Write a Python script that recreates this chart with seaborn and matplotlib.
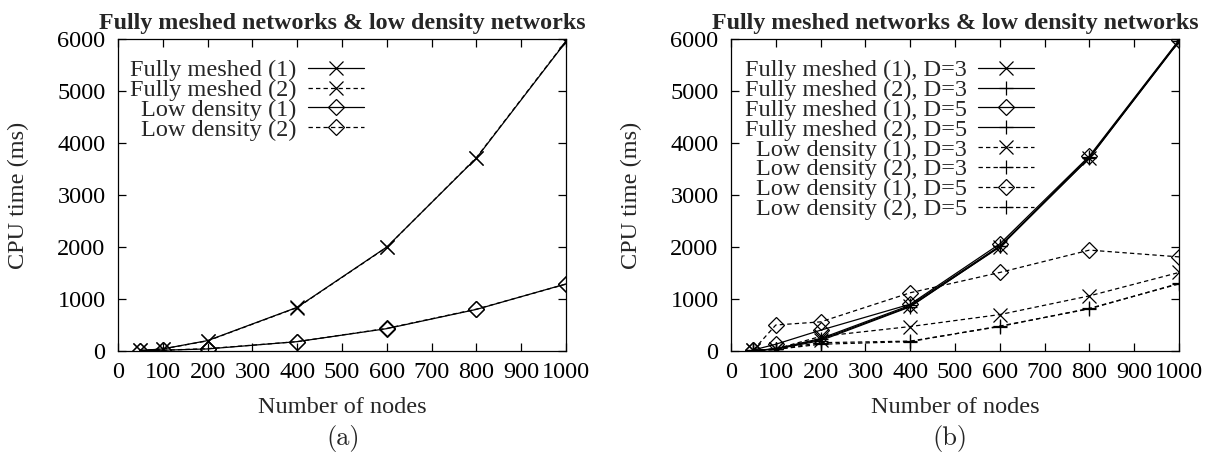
import matplotlib
matplotlib.use("Agg")
import matplotlib.pyplot as plt
import pandas as pd
import seaborn as sns

# number of nodes on the x axis
nodes = [50, 100, 200, 400, 600, 800, 1000]

# panel (a): CPU time in ms
fm1 = [10, 40, 200, 840, 2000, 3710, 5950]
fm2 = [10, 40, 195, 835, 1995, 3720, 5960]
ld1 = [5, 15, 40, 180, 430, 800, 1290]
ld2 = [5, 15, 45, 180, 435, 805, 1285]

# panel (b): CPU time in ms, diameter D=3 / D=5
fm1_d3 = [10, 40, 220, 860, 2000, 3720, 5950]
fm2_d3 = [10, 35, 200, 850, 2010, 3710, 5960]
fm1_d5 = [20, 130, 400, 900, 2060, 3750, 5980]
fm2_d5 = [10, 40, 240, 880, 2020, 3730, 5970]
ld1_d3 = [10, 40, 280, 470, 700, 1060, 1510]
ld2_d3 = [5, 30, 160, 190, 470, 820, 1290]
ld1_d5 = [20, 500, 560, 1120, 1510, 1940, 1810]
ld2_d5 = [5, 30, 130, 180, 480, 810, 1300]

labels_a = ["Fully meshed (1)", "Fully meshed (2)", "Low density (1)", "Low density (2)"]
labels_b = ["Fully meshed (1), D=3", "Fully meshed (2), D=3",
            "Fully meshed (1), D=5", "Fully meshed (2), D=5",
            "Low density (1), D=3", "Low density (2), D=3",
            "Low density (1), D=5", "Low density (2), D=5"]

sns.set_theme(style="ticks")
plt.rcParams["font.family"] = ["Liberation Serif", "DejaVu Serif"]
plt.rcParams["font.size"] = 17.5

FS = 17.5
SOLID = "-"
DASH = (0, (3.5, 2.5))

# (values, label, marker, linestyle)
series_a = [
    (fm1, labels_a[0], "x", SOLID),
    (fm2, labels_a[1], "x", DASH),
    (ld1, labels_a[2], "D", SOLID),
    (ld2, labels_a[3], "D", DASH),
]
series_b = [
    (fm1_d3, labels_b[0], "x", SOLID),
    (fm2_d3, labels_b[1], "+", SOLID),
    (fm1_d5, labels_b[2], "D", SOLID),
    (fm2_d5, labels_b[3], "+", SOLID),
    (ld1_d3, labels_b[4], "x", DASH),
    (ld2_d3, labels_b[5], "+", DASH),
    (ld1_d5, labels_b[6], "D", DASH),
    (ld2_d5, labels_b[7], "+", DASH),
]

fig = plt.figure(figsize=(12.13, 4.54), dpi=100)
ax_a = fig.add_axes([118 / 1213, 1 - 351 / 454, 448 / 1213, 312 / 454])
ax_b = fig.add_axes([731 / 1213, 1 - 351 / 454, 448 / 1213, 312 / 454])


def draw_panel(ax, series, legend_right):
    for vals, lab, mk, ls in series:
        df = pd.DataFrame({"nodes": nodes, "cpu": vals})
        size = 8 if mk == "D" else 9.5
        sns.lineplot(data=df, x="nodes", y="cpu", ax=ax, color="black",
                     linewidth=0.9, linestyle=ls, marker=mk, markersize=size,
                     markerfacecolor="none", markeredgecolor="black",
                     markeredgewidth=0.9, label=lab, estimator=None, sort=False)

    ax.set_xlim(0, 1000)
    ax.set_ylim(0, 6000)
    ax.set_xticks(range(0, 1001, 100))
    ax.set_yticks(range(0, 6001, 1000))
    ax.tick_params(direction="in", length=6, width=0.9, top=True, right=True,
                   labelsize=FS, color="black", labelcolor="black")
    ax.tick_params(axis="y", pad=9)
    ax.tick_params(axis="x", pad=8)
    for sp in ax.spines.values():
        sp.set_linewidth(0.9)
        sp.set_color("black")

    ax.set_title("Fully meshed networks & low density networks",
                 fontsize=17.3, fontweight="bold", pad=7)
    ax.set_xlabel("Number of nodes", fontsize=FS)
    ax.set_ylabel("CPU time (ms)", fontsize=FS)
    ax.xaxis.label.set_va("center")
    ax.xaxis.set_label_coords(0.5, -0.18)
    ax.yaxis.label.set_va("center")
    ax.yaxis.set_label_coords(-0.222, 0.5)

    ax.legend(loc="upper right", bbox_to_anchor=(legend_right, 0.935),
              frameon=False, markerfirst=False, fontsize=FS,
              labelspacing=-0.09, handlelength=2.3, handletextpad=0.45,
              borderpad=0, borderaxespad=0)


draw_panel(ax_a, series_a, 0.548)
draw_panel(ax_b, series_b, 0.676)

fig.text(343 / 1213, 1 - 439 / 454, "(a)", family="cmr10", fontsize=19,
         ha="center", va="center")
fig.text(950 / 1213, 1 - 439 / 454, "(b)", family="cmr10", fontsize=19,
         ha="center", va="center")

fig.savefig("out.png", dpi=100)
